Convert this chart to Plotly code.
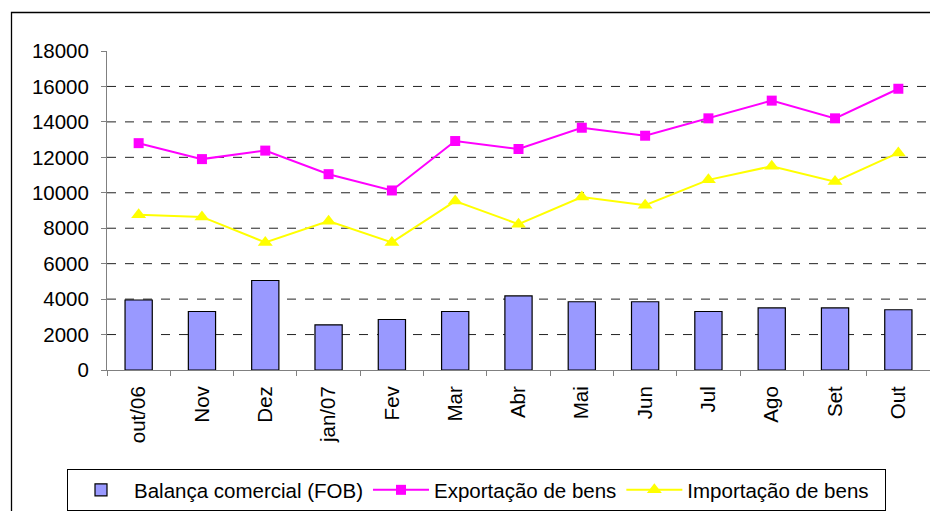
import plotly.graph_objects as go

months = ["out/06", "Nov", "Dez", "jan/07", "Fev", "Mar", "Abr",
          "Mai", "Jun", "Jul", "Ago", "Set", "Out"]
balanca = [3950, 3300, 5050, 2550, 2850, 3300, 4180, 3850, 3850, 3300, 3500, 3500, 3400]
exportacao = [12800, 11900, 12380, 11050, 10130, 12920, 12470, 13670, 13220, 14200, 15200, 14200, 15870]
importacao = [8760, 8640, 7200, 8400, 7200, 9530, 8230, 9760, 9300, 10730, 11500, 10630, 12250]
y_ticks = [0, 2000, 4000, 6000, 8000, 10000, 12000, 14000, 16000, 18000]
grid_values = y_ticks[1:-1]

W, H = 930, 511
L, R, T, B = 107, 0, 51, 141
plot_w = W - L - R
plot_h = H - T - B


def px_x(px):
    return (px - L) / plot_w


def px_y(py):
    return (H - B - py) / plot_h


font = dict(family="Liberation Sans, Arial, sans-serif", size=20.5, color="black")

fig = go.Figure()
fig.add_trace(go.Bar(
    x=months, y=balanca, name="Balança comercial (FOB)",
    marker=dict(color="#9999ff", line=dict(color="black", width=1.2)),
))
fig.add_trace(go.Scatter(
    x=months, y=exportacao, name="Exportação de bens", mode="lines+markers",
    line=dict(color="#ff00ff", width=2),
    marker=dict(symbol="square", size=10, color="#ff00ff"),
))
fig.add_trace(go.Scatter(
    x=months, y=importacao, name="Importação de bens" + "\u00a0" * 2, mode="lines+markers",
    line=dict(color="#ffff00", width=2),
    marker=dict(symbol="triangle-up", size=13, color="#ffff00"),
))

# dashed gridlines (none at the top tick)
for v in grid_values:
    fig.add_shape(type="line", xref="x domain", yref="y", x0=0, x1=1, y0=v, y1=v,
                  line=dict(color="#222222", width=1, dash="dash"), layer="below")

# outer chart frame
fig.add_shape(type="rect", xref="paper", yref="paper",
              x0=px_x(11.5), x1=px_x(W + 20), y0=px_y(H + 20), y1=px_y(12.5),
              line=dict(color="black", width=1.3), fillcolor="rgba(0,0,0,0)")

fig.update_layout(
    width=W, height=H,
    margin=dict(l=L, r=R, t=T, b=B, autoexpand=False),
    paper_bgcolor="white", plot_bgcolor="white",
    font=font,
    bargap=0.57,
    showlegend=True,
    legend=dict(
        orientation="h", x=px_x(67), y=px_y(469), xanchor="left", yanchor="top",
        bordercolor="black", borderwidth=1, bgcolor="white",
        font=font, traceorder="normal", itemwidth=56,
    ),
    xaxis=dict(
        type="category", range=[-0.5, len(months) - 0.5], tickangle=-90,
        showline=True, linecolor="#808080", linewidth=1,
        ticks="outside", ticklen=5, tickcolor="#808080", tickson="boundaries",
        showgrid=False, tickfont=font, ticklabelstandoff=7,
    ),
    yaxis=dict(
        range=[0, 18000], tickvals=y_ticks, tickformat="d",
        showline=True, linecolor="#808080", linewidth=1, ticks="outside", ticklen=5,
        tickcolor="#808080", showgrid=False, zeroline=False, tickfont=font,
        ticklabelstandoff=8,
    ),
)

fig.write_html("out.html", config={"displayModeBar": False},
               post_script="document.body.style.margin='0';")
